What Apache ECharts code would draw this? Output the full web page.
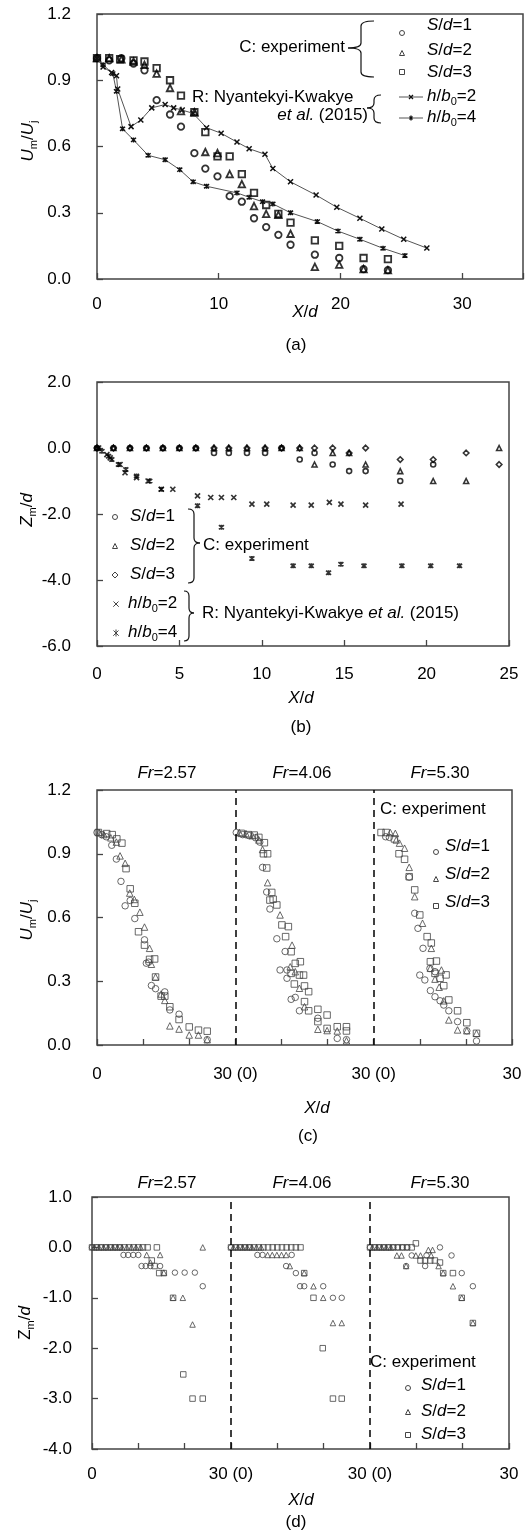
<!DOCTYPE html>
<html><head><meta charset="utf-8">
<script src="https://cdn.jsdelivr.net/npm/echarts@6.0.0/dist/echarts.min.js"></script>
<style>html,body{margin:0;padding:0;background:#fff}#c{width:532px;height:1535px}</style>
</head><body><div id="c"></div>
<script>
// ---------- Panel (a): Um/Uj vs X/d ----------
const aS1 = [[0,1.0],[1,0.99],[2,1.0],[3,0.975],[3.9,0.945],[4.9,0.81],[6.0,0.745],[6.9,0.69],[8.0,0.57],[8.9,0.5],[9.9,0.465],[10.9,0.375],[11.9,0.35],[12.9,0.275],[13.9,0.235],[14.9,0.2],[15.9,0.155],[17.9,0.11],[19.9,0.095],[21.9,0.045],[23.9,0.04]];
const aS2 = [[0,1.0],[1,1.0],[2,0.995],[3,0.985],[3.9,0.97],[4.9,0.93],[6.0,0.865],[6.9,0.76],[8.0,0.755],[8.9,0.575],[9.9,0.57],[10.9,0.475],[11.9,0.43],[12.9,0.33],[13.9,0.295],[14.9,0.29],[15.9,0.205],[17.9,0.055],[19.9,0.065],[21.9,0.045],[23.9,0.04]];
const aS3 = [[0,1.0],[1,1.0],[1.9,0.995],[3,0.99],[3.9,0.985],[4.9,0.955],[6.0,0.9],[6.9,0.83],[8.0,0.755],[8.9,0.665],[9.9,0.555],[10.9,0.555],[11.9,0.475],[12.9,0.39],[13.9,0.335],[14.9,0.295],[15.9,0.255],[17.9,0.175],[19.9,0.15],[21.9,0.095],[23.9,0.09]];
const aH2 = [[0,1.0],[0.5,0.96],[1.2,0.935],[1.6,0.92],[1.7,0.86],[2.8,0.69],[3.6,0.72],[4.5,0.775],[5.6,0.79],[6.3,0.775],[7.0,0.765],[7.9,0.75],[9.0,0.685],[10.2,0.66],[11.5,0.62],[12.5,0.59],[13.8,0.565],[14.45,0.5],[15.9,0.44],[18.0,0.38],[19.7,0.325],[21.6,0.275],[23.4,0.226],[25.2,0.18],[27.1,0.14]];
const aH4 = [[0,1.0],[0.5,0.97],[1.3,0.93],[1.6,0.85],[2.1,0.68],[3.0,0.63],[4.2,0.56],[5.6,0.54],[6.8,0.495],[7.9,0.44],[9.0,0.42],[11.5,0.39],[12.5,0.37],[13.6,0.35],[14.45,0.34],[15.9,0.3],[18.1,0.26],[19.8,0.217],[21.6,0.18],[23.5,0.139],[25.3,0.106]];
const aXTicks = [0,10,20,30];

// ---------- Panel (b): Zm/d vs X/d ----------
const bS1 = [[0,0],[1,0],[2,0],[3,0],[4,0],[5,0],[6,0],[7.1,-0.15],[8,-0.15],[9.1,-0.15],[10.2,-0.15],[11.2,0],[12.3,-0.35],[13.2,-0.15],[14.3,-0.5],[15.3,-0.7],[16.3,-0.7],[18.4,-1.0],[20.4,-0.5]];
const bS2 = [[0,0],[1,0],[2,0],[3,0],[4,0],[5,0],[6,0],[7.1,0],[8,0],[9.1,0],[10.2,0],[11.2,0],[12.3,0],[13.2,-0.5],[14.3,-0.15],[15.3,-0.15],[16.3,-0.5],[18.4,-0.7],[20.4,-1.0],[22.4,-1.0],[24.4,0]];
const bS3 = [[0,0],[1,0],[2,0],[3,0],[4,0],[5,0],[6,0],[7.1,0],[8,0],[9.1,0],[10.2,0],[11.2,0],[12.3,0],[13.2,0],[14.3,0],[15.3,-0.15],[16.3,0],[18.4,-0.35],[20.4,-0.35],[22.4,-0.15],[24.4,-0.5]];
const bH2 = [[0.1,0],[0.6,-0.2],[0.8,-0.3],[1.4,-0.5],[1.7,-0.75],[2.4,-0.9],[3.1,-1.0],[3.9,-1.25],[4.6,-1.25],[6.1,-1.45],[6.9,-1.5],[7.55,-1.5],[8.3,-1.5],[9.4,-1.7],[10.3,-1.7],[11.9,-1.73],[13.0,-1.73],[14.1,-1.65],[14.8,-1.7],[16.3,-1.73],[18.45,-1.7]];
const bH4 = [[0,0],[0.3,-0.1],[0.7,-0.25],[0.9,-0.35],[1.3,-0.5],[1.75,-0.65],[2.4,-0.85],[3.2,-1.0],[3.9,-1.25],[6.1,-1.75],[7.55,-2.4],[9.4,-3.35],[11.9,-3.57],[13.0,-3.57],[14.05,-3.78],[14.8,-3.52],[16.2,-3.57],[18.5,-3.57],[20.25,-3.57],[22.0,-3.57]];

// ---------- Panel (c): Um/Uj, three Froude numbers (local X/d per block) ----------
const c1S1 = [[0,1.0],[1.0,0.99],[2,0.98],[3.2,0.94],[4.2,0.875],[5.2,0.77],[6.1,0.655],[7.2,0.68],[8.2,0.595],[10.3,0.495],[10.7,0.385],[11.2,0.39],[11.8,0.28],[12.7,0.265],[14.7,0.25],[15.8,0.165],[17.8,0.145],[23.9,0.025]];
const c1S2 = [[0.5,1.0],[1.5,0.99],[3,0.975],[4.2,0.955],[5.0,0.89],[6.1,0.855],[7.1,0.715],[8.1,0.685],[9.3,0.625],[10.3,0.555],[11.4,0.455],[11.8,0.38],[12.7,0.32],[13.9,0.24],[14.7,0.21],[15.8,0.09],[17.8,0.075],[20,0.047],[22,0.047],[23.9,0.025]];
const c1S3 = [[0.3,1.0],[2.1,0.995],[3.3,0.99],[4.3,0.97],[5.4,0.95],[6.3,0.83],[7.2,0.735],[8.2,0.667],[9.0,0.533],[10.3,0.47],[11.4,0.403],[12.5,0.405],[12.7,0.32],[13.9,0.23],[14.7,0.23],[15.8,0.18],[17.8,0.12],[20,0.085],[22,0.07],[23.9,0.065]];
const c2S1 = [[0.2,1.0],[1.6,0.99],[3,0.985],[4.4,0.975],[5.3,0.955],[5.9,0.836],[6.8,0.72],[7.5,0.64],[9.0,0.5],[10.8,0.44],[11.2,0.353],[9.7,0.353],[11.2,0.314],[12.1,0.215],[13.0,0.224],[13.9,0.161],[17.9,0.126],[22.1,0.031],[24.1,0.025]];
const c2S2 = [[0.9,1.0],[2.3,0.995],[3.7,0.985],[5.1,0.965],[5.9,0.92],[7.0,0.764],[9.7,0.612],[12.3,0.47],[13.0,0.345],[11.9,0.368],[13.9,0.267],[15.0,0.18],[17.9,0.074],[19.9,0.068],[22.1,0.066],[24.1,0.02]];
const c2S3 = [[1.3,0.996],[2.8,0.99],[4.1,0.988],[5.1,0.977],[6.3,0.952],[6.1,0.9],[7.0,0.9],[6.8,0.833],[7.5,0.682],[7.9,0.718],[8.2,0.686],[9.0,0.659],[10.1,0.565],[11.5,0.557],[10.9,0.51],[12.1,0.439],[14.1,0.392],[14.8,0.329],[13.0,0.384],[12.1,0.337],[13.9,0.329],[12.8,0.287],[15.0,0.278],[15.9,0.251],[15.0,0.204],[15.9,0.161],[17.9,0.168],[17.9,0.11],[19.9,0.141],[19.9,0.078],[22.1,0.086],[24.1,0.086],[24.1,0.066]];
const c3S1 = [[2.6,0.98],[3.4,0.977],[7.7,0.79],[8.9,0.62],[9.6,0.549],[10.7,0.455],[12.2,0.36],[13.3,0.345],[10.0,0.329],[11.1,0.306],[12.3,0.256],[13.3,0.227],[14.4,0.208],[15.2,0.188],[16.3,0.161],[18.2,0.11],[20.2,0.067],[22.3,0.019]];
const c3S2 = [[3.6,1.0],[4.7,0.996],[4.9,0.965],[5.6,0.95],[6.7,0.926],[7.7,0.836],[8.9,0.698],[10.6,0.573],[12.5,0.455],[14.7,0.353],[12.3,0.361],[13.3,0.31],[14.2,0.272],[15.2,0.208],[16.3,0.118],[18.2,0.071],[20.2,0.067],[22.3,0.055]];
const c3S3 = [[1.6,1.0],[2.7,1.0],[4.5,0.97],[5.5,0.9],[6.7,0.874],[7.7,0.792],[8.9,0.73],[10.0,0.612],[11.6,0.51],[12.5,0.48],[13.6,0.395],[15.7,0.33],[12.3,0.392],[13.3,0.337],[14.4,0.314],[15.2,0.279],[16.3,0.212],[18.2,0.161],[20.2,0.105],[22.3,0.055]];

// ---------- Panel (d): Zm/d, three Froude numbers (local X/d per block) ----------
const d1S1 = [[0,0],[1,0],[2,0],[3,0],[4,0],[5,0],[6,0],[6.8,-0.15],[7.8,-0.15],[8.9,-0.15],[10,-0.15],[10.7,-0.37],[11.6,-0.37],[12.6,-0.37],[14.7,-0.37],[17.9,-0.5],[20,-0.5],[22.2,-0.5],[23.9,-0.77]];
const d1S2 = [[0.5,0],[1.5,0],[2.5,0],[3.5,0],[4.5,0],[5.5,0],[6.5,0],[7.5,0],[8.5,0],[9.5,0],[10.5,0],[11.8,-0.15],[14.7,-0.15],[12.6,-0.3],[15.5,-0.5],[17.5,-1.0],[19.6,-1.0],[21.7,-1.53],[23.9,0]];
const d1S3 = [[0,0],[1,0],[2,0],[3,0],[4,0],[5,0],[6,0],[7,0],[8,0],[9,0],[10,0],[11,0],[12,0],[14,0],[12.9,-0.26],[13.5,-0.37],[14.5,-0.51],[15.5,-0.51],[17.5,-1.0],[19.7,-2.52],[21.7,-3.0],[23.9,-3.0]];
const d2S1 = [[0,0],[1,0],[2,0],[3,0],[4,0],[5.7,-0.15],[6.8,-0.15],[13.1,-0.15],[11.9,-0.37],[14.0,-0.51],[14.9,-0.77],[15.8,-0.77],[19.9,-0.77],[22.0,-1.0],[23.9,-1.0]];
const d2S2 = [[0.5,0],[1.5,0],[2.5,0],[3.5,0],[4.5,0],[5.5,0],[6.5,0],[7.9,-0.15],[8.9,-0.15],[9.9,-0.15],[10.9,-0.15],[11.9,-0.15],[12.7,-0.37],[15.8,-0.51],[17.8,-0.77],[19.9,-1.0],[22.0,-1.5],[23.9,-1.5]];
const d2S3 = [[0,0],[1,0],[2,0],[3,0],[4,0],[5,0],[6,0],[7,0],[8,0],[9,0],[10,0],[11,0],[12,0],[13,0],[14,0],[15,0],[15.8,-0.51],[17.8,-1.0],[19.8,-2.0],[22.0,-3.0],[23.9,-3.0]];
const d3S1 = [[0,0],[1,0],[2,0],[3,0],[4,0],[5,0],[6,0],[7,0],[8,0],[7.8,-0.37],[9.0,-0.16],[12.2,-0.16],[11.9,-0.37],[15.1,0],[17.6,-0.16],[19.8,-0.51],[22.2,-0.77]];
const d3S2 = [[0.5,0],[1.5,0],[2.5,0],[3.5,0],[4.5,0],[5.8,-0.16],[6.8,-0.16],[7.8,-0.37],[9.9,-0.16],[10.9,-0.16],[12.6,-0.05],[13.5,-0.05],[13.2,-0.16],[14.8,-0.37],[15.8,-0.51],[17.9,-0.77],[19.8,-1.0],[22.2,-1.5]];
const d3S3 = [[0,0],[1,0],[2,0],[3,0],[4,0],[5,0],[6,0],[7,0],[8,0],[9,0],[9.9,0.08],[10.9,-0.26],[11.9,-0.26],[13.0,-0.26],[14.0,-0.26],[15.1,-0.3],[15.8,-0.51],[17.9,-0.51],[19.8,-1.0],[22.2,-1.5]];

const blockOffsets = [0, 30, 60];
const frLabels = ['2.57','4.06','5.30'];
const cdTickValues = [0, 30, 60, 90];
const cdTickLabels = ['0', '30 (0)', '30 (0)', '30'];

// ---------- styling ----------
const F = '"Liberation Sans", Arial, Helvetica, sans-serif';
const FS = 17;
const RICH = {
  n: {fontFamily:F, fontSize:FS, color:'#000', lineHeight:22},
  i: {fontFamily:F, fontSize:FS, fontStyle:'italic', color:'#000', lineHeight:22},
  s: {fontFamily:F, fontSize:11, color:'#000', lineHeight:12, verticalAlign:'bottom'}
};
const FRAME = '#444';
const CROSS = 'path://M0,0L10,10M0,10L10,0';
const AST = 'path://M0,0L10,10M0,10L10,0M5,-1L5,11';

const chart = echarts.init(document.getElementById('c'), null, {renderer:'canvas'});

function xAx(gi, min, max, interval, margin, fmt) {
  return {gridIndex:gi, type:'value', min, max, interval,
    axisLine:{show:false, onZero:false}, splitLine:{show:false},
    axisTick:{show:true, inside:true, length:6, lineStyle:{color:FRAME, width:1.3}},
    axisLabel:{fontFamily:F, fontSize:FS, color:'#000', margin, formatter:fmt, showMinLabel:true, showMaxLabel:true}};
}
function yAx(gi, min, max, interval, margin) {
  return {gridIndex:gi, type:'value', min, max, interval,
    axisLine:{show:false, onZero:false}, splitLine:{show:false},
    axisTick:{show:true, inside:true, length:6, lineStyle:{color:FRAME, width:1.3}},
    axisLabel:{fontFamily:F, fontSize:FS, color:'#000', margin, formatter:v => v.toFixed(1)}};
}
function sc(gi, data, symbol, size, color, bw, name) {
  return {type:'scatter', name, xAxisIndex:gi, yAxisIndex:gi, data, symbol, symbolSize:size, silent:true,
    itemStyle:{color:'transparent', borderColor:color, borderWidth:bw}};
}
function shift(data, off) { return data.map(p => [p[0] + off, p[1]]); }

const series = [];
// (a)
series.push({type:'line', name:'h/b0=2', xAxisIndex:0, yAxisIndex:0, data:aH2, symbol:CROSS, symbolSize:5, showAllSymbol:true,
  lineStyle:{color:'#555', width:1}, itemStyle:{color:'transparent', borderColor:'#111', borderWidth:1.5}, silent:true});
series.push({type:'line', name:'h/b0=4', xAxisIndex:0, yAxisIndex:0, data:aH4, symbol:AST, symbolSize:5, showAllSymbol:true,
  lineStyle:{color:'#555', width:1}, itemStyle:{color:'transparent', borderColor:'#111', borderWidth:1.5}, silent:true});
series.push(sc(0, aS1, 'circle', 6.5, '#000', 1.8, 'S/d=1'));
series.push(sc(0, aS2, 'triangle', 6.5, '#000', 1.8, 'S/d=2'));
series.push(sc(0, aS3, 'rect', 6.5, '#000', 1.8, 'S/d=3'));
// (b)
series.push(sc(1, bS1, 'circle', 5, '#000', 1.6, 'S/d=1'));
series.push(sc(1, bS2, 'triangle', 5, '#000', 1.6, 'S/d=2'));
series.push(sc(1, bS3, 'diamond', 5.5, '#000', 1.6, 'S/d=3'));
series.push(sc(1, bH2, CROSS, 5, '#000', 1.7, 'h/b0=2'));
series.push(sc(1, bH4, AST, 5, '#000', 1.7, 'h/b0=4'));
// (c) and (d)
const cSets = [[c1S1,c1S2,c1S3],[c2S1,c2S2,c2S3],[c3S1,c3S2,c3S3]];
const dSets = [[d1S1,d1S2,d1S3],[d2S1,d2S2,d2S3],[d3S1,d3S2,d3S3]];
const syms = ['circle','triangle','rect'];
cSets.forEach((set, k) => set.forEach((d, j) => series.push(sc(2, shift(d, blockOffsets[k]), syms[j], 6.5, '#444', 1, 'S/d=' + (j+1)))));
dSets.forEach((set, k) => set.forEach((d, j) => series.push(sc(3, shift(d, blockOffsets[k]), syms[j], 5.5, '#444', 1, 'S/d=' + (j+1)))));
// dashed separators for (c) and (d)
[2,3].forEach(gi => series.push({type:'scatter', xAxisIndex:gi, yAxisIndex:gi, data:[], silent:true,
  markLine:{silent:true, symbol:['none','none'], label:{show:false}, animation:false,
    lineStyle:{color:'#000', type:[7,5], width:1.5},
    data:[{xAxis:blockOffsets[1]},{xAxis:blockOffsets[2]}]}}));

const cdFmt = v => { const i = cdTickValues.indexOf(Math.round(v)); return i >= 0 ? cdTickLabels[i] : ''; };

// ---------- graphic helpers (labels, legends, braces) ----------
function T(x, y, text, align, rot) {
  return {type:'text', x, y, rotation: rot || 0, silent:true, z:10,
    style:{text, rich:RICH, align: align || 'center', verticalAlign:'middle', fill:'#000', fontFamily:F, fontSize:FS}};
}
function brace(x0, y1, y2, ym, w, dir) {
  const xs = x0 + dir * w / 2, xt = x0 + dir * w, r = 5;
  const st = {stroke:'#111', lineWidth:1.2, fill:'none'};
  return [
    {type:'bezierCurve', silent:true, shape:{x1:xt, y1:y1, cpx1:xs, cpy1:y1, x2:xs, y2:y1 + r}, style:st},
    {type:'line', silent:true, shape:{x1:xs, y1:y1 + r, x2:xs, y2:ym - r}, style:st},
    {type:'bezierCurve', silent:true, shape:{x1:xs, y1:ym - r, cpx1:xs, cpy1:ym, x2:x0, y2:ym}, style:st},
    {type:'bezierCurve', silent:true, shape:{x1:x0, y1:ym, cpx1:xs, cpy1:ym, x2:xs, y2:ym + r}, style:st},
    {type:'line', silent:true, shape:{x1:xs, y1:ym + r, x2:xs, y2:y2 - r}, style:st},
    {type:'bezierCurve', silent:true, shape:{x1:xs, y1:y2 - r, cpx1:xs, cpy1:y2, x2:xt, y2:y2}, style:st}
  ];
}
function mk(kind, x, y, s, color, lw) {
  const st = {stroke:color, lineWidth:lw, fill:'none'};
  if (kind === 'circle') return {type:'circle', silent:true, shape:{cx:x, cy:y, r:s/2}, style:st};
  if (kind === 'rect') return {type:'rect', silent:true, shape:{x:x - s/2, y:y - s/2, width:s, height:s}, style:st};
  if (kind === 'triangle') return {type:'polygon', silent:true, shape:{points:[[x, y - s/2],[x + s/2, y + s/2],[x - s/2, y + s/2]]}, style:st};
  if (kind === 'diamond') return {type:'polygon', silent:true, shape:{points:[[x, y - s/2],[x + s/2, y],[x, y + s/2],[x - s/2, y]]}, style:st};
  if (kind === 'cross') return {type:'polyline', silent:true, shape:{points:[[x - s/2, y - s/2],[x + s/2, y + s/2],[x, y],[x - s/2, y + s/2],[x + s/2, y - s/2]]}, style:st};
  if (kind === 'ast') return {type:'group', silent:true, children:[
    {type:'polyline', shape:{points:[[x - s/2, y - s/2],[x + s/2, y + s/2],[x, y],[x - s/2, y + s/2],[x + s/2, y - s/2]]}, style:st},
    {type:'line', shape:{x1:x, y1:y - s/2 - 1, x2:x, y2:y + s/2 + 1}, style:st}]};
}
const SD = ['{i|S}/{i|d}=1', '{i|S}/{i|d}=2', '{i|S}/{i|d}=3'];
const HB = ['{i|h}/{i|b}{s|0}=2', '{i|h}/{i|b}{s|0}=4'];
const UMUJ = '{i|U}{s|m}/{i|U}{s|j}';
const ROT = Math.PI / 2;

const G = [];
// axis names and captions
G.push(T(28, 141, UMUJ, 'center', ROT), T(305, 312, '{i|X}/{i|d}'), T(296, 345, '(a)'));
G.push(T(27, 510, '{i|Z}{s|m}/{i|d}', 'center', ROT), T(301, 698, '{i|X}/{i|d}'), T(301, 727, '(b)'));
G.push(T(27, 920, UMUJ, 'center', ROT), T(317, 1108, '{i|X}/{i|d}'), T(308, 1136, '(c)'));
G.push(T(25, 1323, 'Z{s|m}/{i|d}', 'center', ROT), T(301, 1500, '{i|X}/{i|d}'), T(296, 1522, '(d)'));
// Fr labels
const frX = [167, 302, 440];
frLabels.forEach((f, k) => { G.push(T(frX[k], 773, '{i|Fr}=' + f)); G.push(T(frX[k], 1183, '{i|Fr}=' + f)); });

// legend (a)
G.push(T(345, 47, 'C: experiment', 'right'));
G.push(...brace(348, 21, 77, 48, 26, 1));
G.push(mk('circle', 402, 33, 5, '#444', 1), mk('triangle', 402, 53, 5, '#444', 1), mk('rect', 402, 72, 5, '#444', 1));
G.push(T(427, 25, SD[0], 'left'), T(427, 50, SD[1], 'left'), T(427, 72, SD[2], 'left'));
G.push(T(192, 97, 'R: Nyantekyi-Kwakye', 'left'), T(368, 115, '{i|et al.} (2015)', 'right'));
G.push(...brace(367, 95, 123, 108, 14, 1));
G.push({type:'line', silent:true, shape:{x1:399, y1:97, x2:423, y2:97}, style:{stroke:'#555', lineWidth:1}}, mk('cross', 411, 97, 4, '#111', 1.3));
G.push({type:'line', silent:true, shape:{x1:399, y1:118, x2:423, y2:118}, style:{stroke:'#555', lineWidth:1}}, mk('ast', 411, 118, 3, '#111', 1.3));
G.push(T(427, 96, HB[0], 'left'), T(427, 117, HB[1], 'left'));

// legend (b)
G.push(mk('circle', 115, 517, 5, '#444', 1), mk('triangle', 115, 546, 5, '#444', 1), mk('diamond', 115, 575, 6, '#444', 1));
G.push(T(130, 516, SD[0], 'left'), T(130, 545, SD[1], 'left'), T(130, 574, SD[2], 'left'));
G.push(...brace(200, 509, 583, 543, 12, -1));
G.push(T(203, 545, 'C: experiment', 'left'));
G.push(mk('cross', 116, 604, 5, '#444', 1), mk('ast', 116, 633, 5, '#444', 1));
G.push(T(128, 603, HB[0], 'left'), T(128, 632, HB[1], 'left'));
G.push(...brace(194, 591, 641, 613, 10, -1));
G.push(T(202, 613, 'R: Nyantekyi-Kwakye {i|et al.} (2015)', 'left'));

// legend (c)
G.push(T(380, 809, 'C: experiment', 'left'));
G.push(mk('circle', 436, 852, 5, '#444', 1), mk('triangle', 436, 879, 5, '#444', 1), mk('rect', 436, 906, 5, '#444', 1));
G.push(T(445, 846, SD[0], 'left'), T(445, 874, SD[1], 'left'), T(445, 902, SD[2], 'left'));

// legend (d)
G.push(T(370, 1362, 'C: experiment', 'left'));
G.push(mk('circle', 408, 1388, 5, '#444', 1), mk('triangle', 408, 1412, 5, '#444', 1), mk('rect', 408, 1435, 5, '#444', 1));
G.push(T(421, 1385, SD[0], 'left'), T(421, 1411, SD[1], 'left'), T(421, 1434, SD[2], 'left'));

const gridBase = {show:true, borderColor:FRAME, borderWidth:1.5, backgroundColor:'transparent', containLabel:false};

chart.setOption({
  animation:false,
  backgroundColor:'#fff',
  textStyle:{fontFamily:F},
  grid:[
    Object.assign({left:97, top:14, width:426, height:265}, gridBase),
    Object.assign({left:97, top:382, width:412, height:264}, gridBase),
    Object.assign({left:97, top:790, width:415, height:255}, gridBase),
    Object.assign({left:92, top:1197, width:417, height:252}, gridBase)
  ],
  xAxis:[
    xAx(0, 0, 35, 10, 17, v => aXTicks.indexOf(v) >= 0 ? String(v) : ''),
    xAx(1, 0, 25, 5, 20, v => String(v)),
    xAx(2, 0, 90, 10, 21, cdFmt),
    xAx(3, 0, 90, 10, 17, cdFmt)
  ],
  yAxis:[
    yAx(0, 0, 1.2, 0.3, 26),
    yAx(1, -6, 2, 2, 26),
    yAx(2, 0, 1.2, 0.3, 26),
    yAx(3, -4, 1, 1, 20)
  ],
  series,
  graphic:{elements:G}
});
</script></body></html>
